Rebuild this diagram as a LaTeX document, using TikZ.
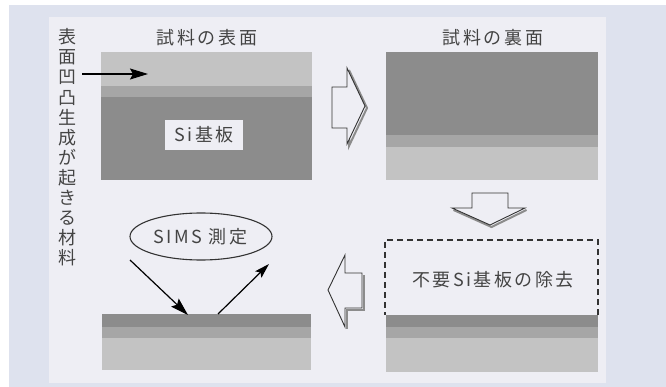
\documentclass[tikz,border=0pt]{standalone}
\usepackage{fontspec}
\newfontfamily\jp[LetterSpace=14]{Noto Sans CJK JP}
\newfontfamily\jpv{Noto Sans CJK JP}
\usetikzlibrary{arrows.meta,shapes.geometric}
\definecolor{outerbg}{HTML}{DEE2EE}
\definecolor{panelbg}{HTML}{EEEEF4}
\definecolor{txt}{HTML}{444444}
\definecolor{lyrdark}{HTML}{8C8C8C}
\definecolor{lyrmid}{HTML}{A6A6A6}
\definecolor{lyrlight}{HTML}{C3C3C3}
\definecolor{edge}{HTML}{333333}
\tikzset{
  lbl/.style={font=\jp\fontsize{18}{20}\selectfont, text=txt, inner sep=0pt},
  blockarrow/.style={fill=panelbg, draw=edge, line width=0.9pt, line join=miter},
  blockshadow/.style={draw=black!45, line width=2pt},
  ptr/.style={draw=black, line width=1.2pt, -{Stealth[length=18pt,width=11pt,inset=3pt]}},
}
\begin{document}
\begin{tikzpicture}[x=1pt,y=-1pt]
\useasboundingbox (0,0) rectangle (666,387);
\fill[white] (0,0) rectangle (666,387);
\fill[outerbg] (9,5) rectangle (666,387);
\fill[panelbg] (49,17) rectangle (606,383);

% vertical label
\node[lbl, font=\jpv\fontsize{18}{20.1}\selectfont, align=center] (vt) at (67,147.5)
  {表\\面\\凹\\凸\\生\\成\\が\\起\\き\\る\\材\\料};

% titles
\node[lbl] (t1) at (207,37.5) {試料の表面};
\node[lbl] (t2) at (493,37.5) {試料の裏面};

% top-left box (surface)
\fill[lyrlight] (101,52) rectangle (312,86);
\fill[lyrmid] (101,86) rectangle (312,97);
\fill[lyrdark] (101,97) rectangle (312,180);
\node[lbl, fill=panelbg, minimum width=78pt, minimum height=30pt] (si) at (204,135) {Si基板};

% arrow from label
\coordinate (a1s) at (82,74);
\coordinate (a1e) at (148,74);
\draw[ptr] (a1s) -- (a1e);

% top-right box (back side)
\fill[lyrdark] (386,52) rectangle (598,135);
\fill[lyrmid] (386,135) rectangle (598,147);
\fill[lyrlight] (386,147) rectangle (598,180);

% right block arrow
\def\rarrow{(332,87) -- (347,87) -- (347,68) -- (365,106) -- (347,144) -- (347,128) -- (332,128) -- cycle}
\draw[blockshadow, shift={(2,2)}] (347,68) -- (365,106) -- (347,144) -- (347,128);
\path[blockarrow] \rarrow;

% down block arrow
\def\darrow{(472,193) -- (508,193) -- (508,208) -- (525,208) -- (490,225) -- (452,208) -- (472,208) -- cycle}
\draw[blockshadow, shift={(1.5,2)}] (525,208) -- (490,225) -- (452,208);
\path[blockarrow] \darrow;

% bottom-right box
\fill[lyrdark] (386,315) rectangle (598,327);
\fill[lyrmid] (386,327) rectangle (598,338);
\fill[lyrlight] (386,338) rectangle (598,372);
\draw[edge, line width=1.1pt, dash pattern=on 6pt off 4pt] (598,315) -- (598,240) -- (385,240) -- (385,315);
\node[lbl] (rm) at (493,280) {不要Si基板の除去};

% left block arrow
\def\larrow{(362,273) -- (345,273) -- (345,255) -- (328,290) -- (345,327) -- (345,308) -- (362,308) -- cycle}
\draw[blockshadow, shift={(2,2)}] (362,273) -- (362,308) -- (345,308) -- (345,327);
\path[blockarrow] \larrow;

% bottom-left box
\fill[lyrdark] (102,314) rectangle (311,327);
\fill[lyrmid] (102,327) rectangle (311,338);
\fill[lyrlight] (102,338) rectangle (311,370);

% SIMS
\node[ellipse, draw=edge, line width=1.1pt, minimum width=142pt, minimum height=47pt, inner sep=0pt] (el) at (201,236.5) {};
\node[lbl] (sims) at (200.5,236.5) {SIMS 測定};
\coordinate (inS) at (130,260);
\coordinate (inE) at (188,315);
\coordinate (outS) at (218,314);
\coordinate (outE) at (269,264);
\draw[ptr] (inS) -- (inE);
\draw[ptr, -{Stealth[length=15pt,width=9pt,inset=3pt]}] (outS) -- (outE);
\end{tikzpicture}
\end{document}
